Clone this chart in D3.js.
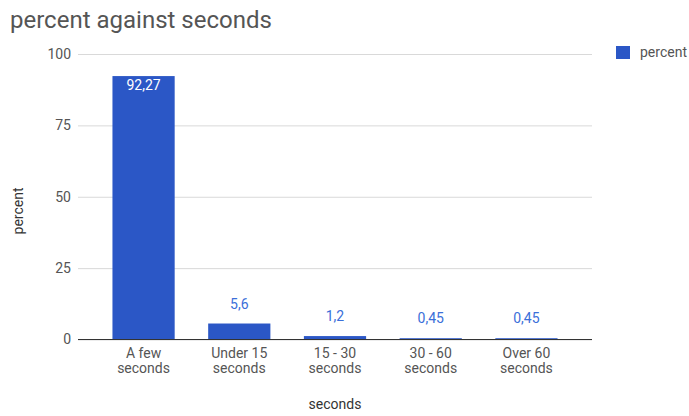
<!DOCTYPE html>
<html>
<head>
<meta charset="utf-8">
<script src="https://cdn.jsdelivr.net/npm/d3@7"></script>
<style>
  body { margin: 0; background: #fff; font-family: Roboto, "Noto Sans", sans-serif; }
</style>
</head>
<body>
<div id="chart"></div>
<script>
// data
const categories = [["A few", "seconds"], ["Under 15", "seconds"], ["15 - 30", "seconds"], ["30 - 60", "seconds"], ["Over 60", "seconds"]];
const percentValues = [92.27, 5.6, 1.2, 0.45, 0.45];
const valueLabels = ["92,27", "5,6", "1,2", "0,45", "0,45"];
const yTicks = [0, 25, 50, 75, 100];

const width = 689, height = 416;
const barColor = "#2b57c6";

let svg = d3.select("#chart")
  .append("svg")
    .attr("width", width)
    .attr("height", height);

// title
svg.append("text")
  .attr("x", 10).attr("y", 28)
  .style("font-size", "24px")
  .style("fill", "#555")
  .text("percent against seconds");

let x = d3.scaleBand()
  .domain(d3.range(categories.length))
  .range([78, 592])
  .paddingInner(0.35)
  .paddingOuter(0.36);

let y = d3.scaleLinear()
  .domain([0, 100])
  .range([339.5, 54]);

// gridlines + y labels
let yAxis = svg.append("g")
  .attr("transform", "translate(78,0)")
  .call(d3.axisLeft(y).tickValues(yTicks).tickSize(-514).tickPadding(7));
yAxis.select(".domain").remove();
yAxis.selectAll(".tick line").attr("stroke", "#d9d9d9");
yAxis.selectAll(".tick text")
  .style("font-family", "Roboto, sans-serif")
  .style("font-size", "14px")
  .style("fill", "#555");

// bars
svg.selectAll(".bar")
  .data(percentValues)
  .enter().append("rect")
    .attr("class", "bar")
    .attr("x", (d, i) => x(i))
    .attr("width", x.bandwidth())
    .attr("y", d => y(d))
    .attr("height", d => y(0) - y(d))
    .attr("fill", barColor);

// zero line
svg.append("line")
  .attr("x1", 78).attr("x2", 592)
  .attr("y1", y(0)).attr("y2", y(0))
  .attr("stroke", "#333").attr("stroke-width", 1);

// value labels
svg.selectAll(".vlabel")
  .data(percentValues)
  .enter().append("text")
    .attr("x", (d, i) => x(i) + x.bandwidth() / 2)
    .attr("y", d => d > 50 ? y(d) + 14 : y(d) - 15)
    .attr("text-anchor", "middle")
    .style("font-size", "14px")
    .style("fill", d => d > 50 ? "#fff" : "#3b6fd9")
    .text((d, i) => valueLabels[i]);

// x tick labels (two lines)
let xl = svg.selectAll(".xlabel")
  .data(categories)
  .enter().append("text")
    .attr("text-anchor", "middle")
    .style("font-size", "14px")
    .style("fill", "#555");
xl.each(function(d, i) {
  d3.select(this).selectAll("tspan")
    .data(d)
    .enter().append("tspan")
      .attr("x", x(i) + x.bandwidth() / 2)
      .attr("y", (t, j) => 358 + j * 15)
      .text(t => t);
});

// axis titles
svg.append("text")
  .attr("x", 335).attr("y", 409)
  .attr("text-anchor", "middle")
  .style("font-size", "14px")
  .style("fill", "#333")
  .text("seconds");

svg.append("text")
  .attr("transform", "translate(23,211) rotate(-90)")
  .attr("text-anchor", "middle")
  .style("font-size", "14px")
  .style("fill", "#333")
  .text("percent");

// legend
svg.append("rect")
  .attr("x", 616).attr("y", 46)
  .attr("width", 14).attr("height", 13)
  .attr("fill", barColor);
svg.append("text")
  .attr("x", 640).attr("y", 57)
  .style("font-size", "14px")
  .style("fill", "#555")
  .text("percent");
</script>
</body>
</html>
